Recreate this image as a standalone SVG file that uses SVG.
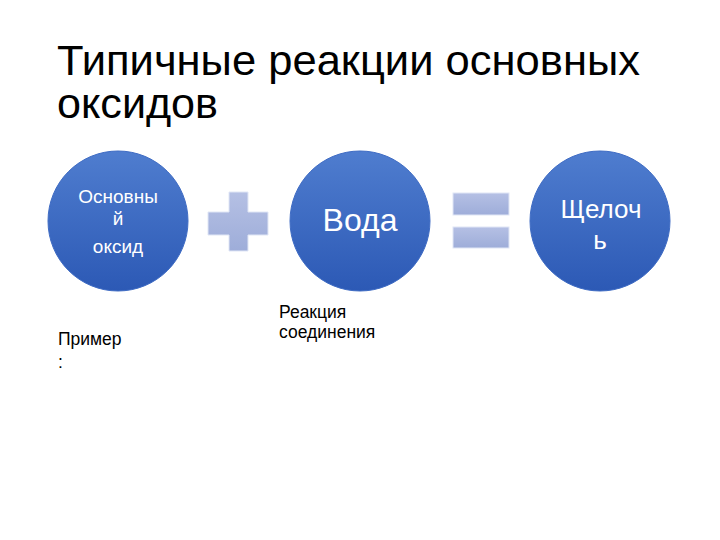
<svg xmlns="http://www.w3.org/2000/svg" width="720" height="540" viewBox="0 0 720 540">
<defs>
<linearGradient id="cg" x1="0" y1="0" x2="0" y2="1">
<stop offset="0" stop-color="#4f7dcf"/>
<stop offset="1" stop-color="#2c59b5"/>
</linearGradient>
<linearGradient id="pg" x1="0" y1="0" x2="0" y2="1">
<stop offset="0" stop-color="#b5c0e4"/>
<stop offset="1" stop-color="#9eadd9"/>
</linearGradient>
<style>
.c{fill:url(#cg);stroke:#3f6cc4;stroke-width:1}
.ct{fill:#fff;font-family:"Liberation Sans",Arial,sans-serif;text-anchor:middle}
.op{fill:url(#pg);stroke:#e0e6f5;stroke-width:1}
.t{fill:#000;font-family:"Liberation Sans",Arial,sans-serif}
</style>
</defs>
<rect width="720" height="540" fill="#fff"/>
<g id="title">
<text class="t" x="57" y="75" font-size="42" textLength="583" lengthAdjust="spacingAndGlyphs">Типичные реакции основных</text>
<text class="t" x="57" y="118" font-size="42" textLength="161" lengthAdjust="spacingAndGlyphs">оксидов</text>
</g>
<g id="n1">
<circle class="c" cx="118" cy="221" r="70"/>
<text class="ct" x="118" y="203" font-size="19">Основны</text>
<text class="ct" x="118" y="225" font-size="19">й</text>
<text class="ct" x="118" y="253" font-size="19">оксид</text>
</g>
<g id="plus">
<path class="op" d="M229 192H248V212H268V235H248V251H229V235H208V212H229Z"/>
</g>
<g id="n2">
<circle class="c" cx="360" cy="221" r="70"/>
<text class="ct" x="360" y="231" font-size="32">Вода</text>
</g>
<g id="equals">
<rect class="op" x="453" y="193" width="56" height="22"/>
<rect class="op" x="453" y="227" width="56" height="21"/>
</g>
<g id="n3">
<circle class="c" cx="600" cy="221" r="70"/>
<text class="ct" x="601" y="218" font-size="26">Щелоч</text>
<text class="ct" x="600" y="249" font-size="26">ь</text>
</g>
<g id="labels">
<text class="t" x="279" y="318" font-size="17.5">Реакция</text>
<text class="t" x="279" y="338" font-size="17.5">соединения</text>
<text class="t" x="58" y="345" font-size="17.5">Пример</text>
<text class="t" x="58" y="368" font-size="17.5">:</text>
</g>
</svg>
